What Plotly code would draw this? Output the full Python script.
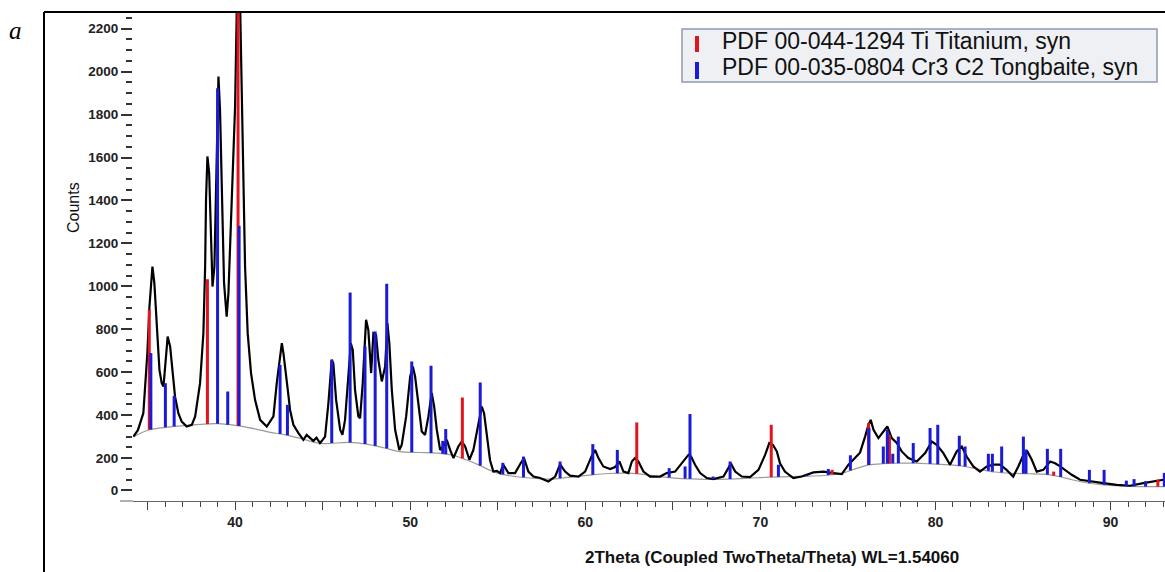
import numpy as np
import plotly.graph_objects as go

# ---------------- data ----------------
# measured pattern (2theta, counts)
meas_theta = [34.19, 34.45, 34.76, 34.99, 35.11, 35.28, 35.39, 35.53, 35.68, 35.81, 35.91, 36.04, 36.15, 36.29,
              36.42, 36.57, 36.76, 36.95, 37.24, 37.53, 37.72, 38.00, 38.19, 38.29, 38.34, 38.42, 38.52, 38.61,
              38.71, 38.82, 38.95, 39.05, 39.14, 39.24, 39.37, 39.52, 39.62, 39.81, 40.00, 40.13, 40.20, 40.29,
              40.44, 40.57, 40.72, 40.91, 41.14, 41.43, 41.81, 42.19, 42.38, 42.53, 42.67, 42.76, 42.89, 43.01,
              43.14, 43.33, 43.62, 43.90, 44.09, 44.19, 44.47, 44.65, 44.85, 45.00, 45.14, 45.33, 45.52, 45.61,
              45.77, 46.00, 46.13, 46.28, 46.47, 46.61, 46.72, 46.85, 47.04, 47.14, 47.29, 47.48, 47.61, 47.77,
              47.90, 48.05, 48.18, 48.38, 48.57, 48.70, 48.81, 48.95, 49.14, 49.38, 49.52, 49.77, 50.00, 50.15,
              50.28, 50.47, 50.66, 50.85, 51.04, 51.23, 51.37, 51.52, 51.71, 51.90, 52.09, 52.28, 52.47, 52.75,
              52.95, 53.14, 53.38, 53.61, 53.90, 54.09, 54.22, 54.37, 54.56, 54.75, 54.95, 55.13, 55.32, 55.61,
              55.99, 56.31, 56.50, 56.75, 57.04, 57.42, 57.89, 58.28, 58.56, 58.85, 59.13, 59.61, 59.99, 60.37,
              60.56, 60.75, 61.03, 61.42, 61.70, 61.95, 62.18, 62.46, 62.66, 62.84, 63.03, 63.32, 63.70, 64.27,
              64.65, 65.13, 65.60, 65.89, 66.04, 66.27, 66.56, 66.94, 67.32, 67.89, 68.17, 68.31, 68.56, 68.94,
              69.41, 69.89, 70.27, 70.51, 70.71, 70.94, 71.12, 71.40, 71.88, 72.36, 73.03, 73.60, 74.17, 74.65,
              75.03, 75.31, 75.69, 75.98, 76.17, 76.30, 76.46, 76.74, 77.03, 77.25, 77.50, 77.79, 78.07, 78.45,
              78.93, 79.41, 79.79, 80.07, 80.45, 80.83, 81.21, 81.50, 81.78, 82.16, 82.54, 82.93, 83.31, 83.69,
              84.06, 84.44, 84.73, 85.02, 85.25, 85.50, 85.78, 86.16, 86.55, 86.83, 87.12, 87.40, 87.78, 88.26,
              88.83, 89.59, 90.35, 91.11, 91.87, 92.44, 93.02]
meas_counts = [300, 330, 409, 689, 906, 1092, 1015, 813, 611, 549, 533, 658, 766, 720,
               596, 487, 409, 370, 347, 355, 394, 549, 782, 1092, 1403, 1605, 1527, 1248,
               999, 1092, 1558, 1977, 1822, 1403, 1015, 859, 968, 1403, 1837, 2450, 2500, 2300,
               1558, 1092, 782, 596, 471, 378, 347, 394, 549, 658, 735, 689, 611, 518,
               424, 355, 316, 285, 308, 300, 280, 295, 270, 285, 300, 456, 658, 642,
               471, 332, 308, 378, 580, 735, 704, 518, 394, 386, 549, 844, 797, 596,
               782, 774, 658, 557, 627, 829, 735, 518, 332, 238, 262, 394, 580, 627,
               580, 440, 324, 308, 394, 503, 440, 332, 238, 254, 285, 238, 200, 254,
               277, 254, 192, 238, 363, 440, 409, 300, 190, 137, 140, 130, 169, 130,
               130, 176, 200, 137, 114, 107, 91, 114, 170, 137, 118, 114, 137, 210,
               238, 200, 161, 149, 158, 184, 137, 130, 184, 200, 184, 137, 114, 114,
               130, 137, 184, 215, 207, 169, 130, 107, 102, 114, 153, 176, 137, 114,
               111, 145, 215, 270, 262, 231, 176, 137, 107, 114, 133, 137, 130, 125,
               169, 192, 225, 300, 355, 378, 332, 293, 324, 347, 293, 270, 231, 200,
               184, 223, 277, 262, 223, 169, 231, 254, 207, 161, 137, 161, 169, 169,
               145, 114, 161, 215, 231, 192, 137, 145, 184, 176, 161, 145, 122, 99,
               91, 83, 75, 71, 83, 91, 99]

# fitted background
bg_theta = [34.2, 35.1, 36.0, 36.9, 38.0, 39.0, 40.2, 41.2, 42.0, 42.9, 43.8, 44.9, 46.5, 47.5, 48.5, 49.4,
            50.5, 51.7, 52.5, 53.2, 54.0, 54.5, 55.2, 56.1, 57.0, 58.0, 59.0, 60.4, 61.3, 62.3, 63.2, 64.2,
            65.1, 66.1, 67.1, 68.1, 69.3, 70.5, 71.7, 72.8, 73.8, 74.7, 75.5, 76.2, 77.0, 77.8, 78.8, 79.7,
            80.6, 81.6, 82.5, 83.4, 84.4, 85.3, 86.3, 87.1, 87.8, 88.6, 89.5, 90.4, 91.1, 92.0, 93.1]
bg_counts = [300, 332, 343, 350, 357, 360, 350, 335, 320, 308, 290, 268, 273, 265, 248, 230,
             226, 222, 212, 192, 165, 145, 125, 113, 106, 102, 110, 122, 128, 130, 125, 114,
             107, 103, 101, 102, 106, 111, 114, 116, 120, 130, 152, 168, 174, 176, 176, 173,
             169, 162, 148, 135, 129, 127, 124, 113, 99, 85, 76, 71, 68, 67, 67]

# PDF 00-044-1294 Ti Titanium, syn (red sticks)
ti_pos = [35.10, 38.42, 40.17, 52.98, 62.94, 70.62, 74.10, 76.18, 77.37, 82.30, 86.75, 92.70]
ti_top = [890, 1033, 2450, 482, 366, 355, 145, 363, 308, 150, 137, 100]

# PDF 00-035-0804 Cr3 C2 Tongbaite, syn (blue sticks)
cr_pos = [35.19, 36.02, 36.52, 39.00, 39.58, 40.23, 42.57, 42.99, 45.52, 46.57, 47.42, 48.00, 48.66,
          50.09, 51.19, 51.86, 52.03, 54.00, 55.29, 56.47, 58.56, 60.43, 61.83, 64.79, 65.70, 65.98,
          67.30, 68.27, 71.03, 72.65, 73.88, 75.14, 76.20, 77.02, 77.25, 77.56, 77.88, 78.73, 79.69,
          80.13, 81.36, 81.69, 83.02, 83.25, 83.78, 85.02, 85.17, 86.39, 87.15, 88.79, 89.63, 90.90,
          91.34, 92.00, 93.07]
cr_top = [689, 549, 490, 1923, 510, 1282, 634, 448, 658, 971, 720, 790, 1012,
          650, 630, 280, 335, 552, 178, 207, 184, 265, 238, 153, 161, 405,
          114, 184, 169, 122, 149, 213, 340, 254, 332, 220, 300, 270, 340,
          355, 304, 254, 220, 220, 254, 300, 240, 243, 243, 145, 145, 95,
          102, 92, 131]

legend_labels = ["PDF 00-044-1294 Ti Titanium, syn", "PDF 00-035-0804 Cr3 C2 Tongbaite, syn"]
y_tickvals = [50] + list(range(200, 2201, 200))
y_ticktext = ["0"] + [str(v) for v in range(200, 2201, 200)]
x_tickvals = list(range(35, 95, 5))
x_ticktext = [str(v) if v % 10 == 0 else "" for v in x_tickvals]

# ---------------- layout geometry ----------------
W, H = 1165, 572
L, R, T, B = 133, 0, 12, 71
PW, PH = W - L - R, H - T - B


def px(x):
    return (x - L) / PW


def py(y):
    return (H - B - y) / PH


RED = "#e3141b"
BLUE = "#1a1ad8"
FONT = "Liberation Sans"


def sticks(pos, top):
    base = np.interp(pos, bg_theta, bg_counts)
    xs, ys = [], []
    for p, b, t in zip(pos, base, top):
        xs += [p, p, None]
        ys += [b, t, None]
    return xs, ys


fig = go.Figure()
fig.add_trace(go.Scatter(x=bg_theta, y=bg_counts, mode="lines",
                         line=dict(color="#9a9a9a", width=1.2, shape="spline"), hoverinfo="skip"))
fig.add_trace(go.Scatter(x=meas_theta, y=meas_counts, mode="lines",
                         line=dict(color="black", width=2.2), name="measured"))
xs, ys = sticks(ti_pos, ti_top)
fig.add_trace(go.Scatter(x=xs, y=ys, mode="lines", line=dict(color=RED, width=3), name=legend_labels[0]))
xs, ys = sticks(cr_pos, cr_top)
fig.add_trace(go.Scatter(x=xs, y=ys, mode="lines", line=dict(color=BLUE, width=3), name=legend_labels[1]))

shapes = [
    # outer frame (left + top)
    dict(type="line", xref="paper", yref="paper", x0=px(44), x1=px(W + 5), y0=py(12), y1=py(12),
         line=dict(color="black", width=2)),
    dict(type="line", xref="paper", yref="paper", x0=px(44), x1=px(44), y0=py(12), y1=py(H + 5),
         line=dict(color="black", width=2)),
    # x-axis line extension to the left
    dict(type="line", xref="paper", yref="paper", x0=px(120), x1=0, y0=0, y1=0,
         line=dict(color="#666666", width=1)),
    # legend box
    dict(type="rect", xref="paper", yref="paper", x0=px(682), x1=px(1157), y0=py(82), y1=py(29),
         fillcolor="#eef0f4", line=dict(color="#8c9ab0", width=1.5)),
    dict(type="line", xref="paper", yref="paper", x0=px(697), x1=px(697), y0=py(52), y1=py(36),
         line=dict(color=RED, width=4)),
    dict(type="line", xref="paper", yref="paper", x0=px(697), x1=px(697), y0=py(79), y1=py(62),
         line=dict(color=BLUE, width=4)),
]

annotations = [
    dict(text=legend_labels[0], xref="paper", yref="paper", x=px(720), y=py(41), xanchor="left",
         yanchor="middle", showarrow=False, font=dict(family=FONT, size=23, color="#111111")),
    dict(text=legend_labels[1], xref="paper", yref="paper", x=px(720), y=py(67), xanchor="left",
         yanchor="middle", showarrow=False, font=dict(family=FONT, size=23, color="#111111")),
    dict(text="Counts", xref="paper", yref="paper", x=px(73), y=py(208), textangle=-90,
         showarrow=False, xanchor="center", yanchor="middle",
         font=dict(family=FONT, size=16, color="#111111")),
    dict(text="2Theta (Coupled TwoTheta/Theta) WL=1.54060", xref="paper", yref="paper",
         x=px(772), y=py(557), showarrow=False, xanchor="center", yanchor="middle",
         font=dict(family=FONT, size=17, color="#111111", weight="bold")),
    dict(text="<i>a</i>", xref="paper", yref="paper", x=px(15), y=py(30), showarrow=False,
         xanchor="center", yanchor="middle", font=dict(family="Liberation Serif", size=25, color="black")),
]

minor_y = [v for v in range(100, 2251, 50) if v % 200 != 0]

fig.update_layout(
    width=W, height=H, margin=dict(l=L, r=R, t=T, b=B),
    paper_bgcolor="white", plot_bgcolor="white", showlegend=False,
    shapes=shapes, annotations=annotations,
    xaxis=dict(range=[34.17, 34.17 + PW / 17.51], showgrid=False, zeroline=False,
               showline=True, linecolor="#666666", linewidth=1,
               tickmode="array", tickvals=x_tickvals, ticktext=x_ticktext,
               ticks="outside", ticklen=8, tickcolor="#444444", tickwidth=1,
               tickfont=dict(family=FONT, size=14, color="#222222", weight="bold"),
               minor=dict(dtick=1, tick0=0, ticks="outside", ticklen=5, tickcolor="#444444", tickwidth=1)),
    yaxis=dict(range=[0, 2278], showgrid=False, zeroline=False, showline=False,
               tickmode="array", tickvals=y_tickvals, ticktext=y_ticktext,
               ticks="outside", ticklen=11, tickcolor="#333333", tickwidth=1.5,
               tickfont=dict(family=FONT, size=13.5, color="#222222", weight="bold"),
               minor=dict(tickmode="array", tickvals=minor_y, ticks="outside", ticklen=6,
                          tickcolor="#333333", tickwidth=1.5)),
)

fig.write_html("out.html")
